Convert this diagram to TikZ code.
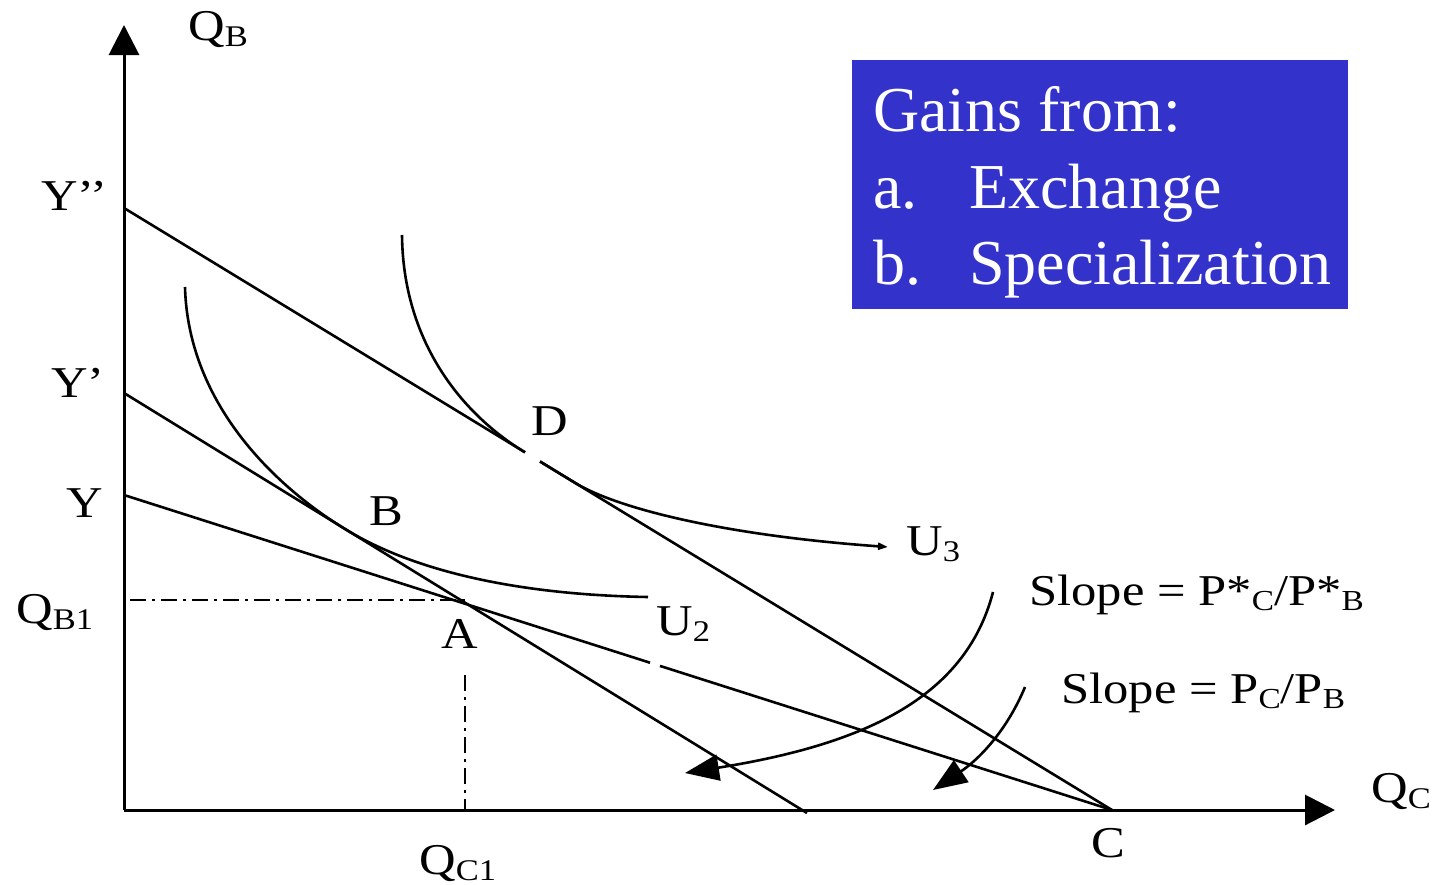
\documentclass[tikz,border=0pt]{standalone}
\usepackage{fontspec}
\setmainfont{Liberation Serif}
\newfontfamily\labfont[FakeStretch=1.15]{Liberation Serif}
\usetikzlibrary{arrows.meta,calc}
\definecolor{boxblue}{RGB}{51,51,204}
\newcommand\lsub[1]{\raisebox{-6pt}{\fontsize{30}{30}\selectfont #1}}
\newcommand\ssub[1]{\raisebox{-5pt}{\fontsize{29}{29}\selectfont #1}}
\begin{document}
\begin{tikzpicture}[x=1pt,y=-1pt,line width=2.6pt,
  lab/.style={inner sep=0pt,anchor=base west,font=\labfont\fontsize{44}{44}\selectfont},
  boxtxt/.style={inner sep=0pt,anchor=base west,text=white,font=\fontsize{64}{64}\selectfont},
  axis/.style={line width=3pt,-{Triangle[length=30pt,width=30pt]}},
  budget/.style={line width=2.6pt},
  indiff/.style={line width=2.6pt},
  guide/.style={line width=2pt,dash pattern=on 16pt off 6pt on 3pt off 6pt},
  bigarrow/.style={line width=2.6pt,-{Triangle[length=34pt,width=26pt]}}]
\path[use as bounding box] (0,0) rectangle (1437,884);
% key points
\coordinate (O) at (124,810);
\coordinate (Ytop) at (124,25);
\coordinate (Xend) at (1335,810);
\coordinate (Ypp) at (124,208);
\coordinate (Yp) at (124,393);
\coordinate (Yc) at (124,495);
\coordinate (C) at (1112,810);
\coordinate (Ypend) at (807,813);
\coordinate (g1a) at (525,452.3);
\coordinate (g1b) at (540,461.5);
\coordinate (g2a) at (650,662.7);
\coordinate (g2b) at (660,665.9);
\coordinate (A) at (465,600);
\coordinate (hstart) at (130,600);
\coordinate (vtop) at (465,675);
\coordinate (vbot) at (465,810);
% box
\node[fill=boxblue,inner sep=0pt,minimum width=496pt,minimum height=249pt,anchor=north west] (box) at (851,59) {};
\node[boxtxt] (t1) at (872,131) {Gains from:};
\node[boxtxt] (t2) at (872,208) {\makebox[96pt][l]{a.}Exchange};
\node[boxtxt] (t3) at (872,284) {\makebox[96pt][l]{b.}Specialization};
% axes
\draw[axis] (O) -- (Ytop);
\draw[axis] (O) -- (Xend);
% budget lines
\draw[budget] (Ypp) -- (g1a);
\draw[budget] (g1b) -- (C);
\draw[budget] (Yp) -- (Ypend);
\draw[budget] (Yc) -- (g2a);
\draw[budget] (g2b) -- (C);
% guides
\draw[guide] (hstart) -- (A);
\draw[guide] (vtop) -- (vbot);
% indifference curves
\draw[indiff] (185,287) .. controls (188,400) and (270,483) .. (345,529) .. controls (420,575) and (530,595) .. (648,597);
\draw[indiff] (402,235) .. controls (403,340) and (460,413) .. (g1a);
\draw[indiff,-{Triangle[length=10pt,width=7pt]}] (g1b) -- (575,482.8) .. controls (615,507.4) and (720,535) .. (888,547);
% slope arrows
\draw[bigarrow] (993,592) .. controls (965,700) and (860,745) .. (685,773);
\draw[bigarrow] (1025,687) .. controls (1005,735) and (975,762) .. (933,790);
% labels
\node[lab] (lQB) at (187,40) {Q\lsub{B}};
\node[lab] (lYpp) at (40,210) {Y’’};
\node[lab] (lYp) at (50,397) {Y’};
\node[lab] (lY) at (65,517) {Y};
\node[lab] (lQB1) at (15,623) {Q\lsub{B1}};
\node[lab] (lB) at (368,525) {B};
\node[lab] (lA) at (440,648) {A};
\node[lab] (lD) at (530,435) {D};
\node[lab] (lU3) at (905,555) {U\lsub{3}};
\node[lab] (lU2) at (655,635) {U\lsub{2}};
\node[lab] (lC) at (1090,857) {C};
\node[lab] (lQC) at (1370,802) {Q\lsub{C}};
\node[lab] (lQC1) at (418,874) {Q\lsub{C1}};
\node[lab] (s1) at (1028,605) {Slope = P*\ssub{C}/P*\ssub{B}};
\node[lab] (s2) at (1060,703) {Slope = P\ssub{C}/P\ssub{B}};
\end{tikzpicture}
\end{document}
